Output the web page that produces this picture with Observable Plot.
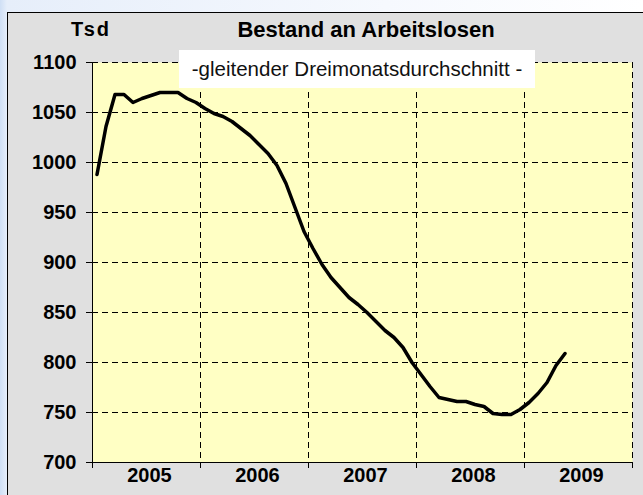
<!DOCTYPE html>
<html><head><meta charset="utf-8">
<script src="https://cdn.jsdelivr.net/npm/d3@7"></script>
<script src="https://cdn.jsdelivr.net/npm/@observablehq/plot@0.6"></script>
<style>
html,body{margin:0;padding:0;width:643px;height:495px;overflow:hidden;font-family:Arial,"Liberation Sans",sans-serif;}
body{background:linear-gradient(to right,#cfdff5 0px,#e6eefa 7px,#f6f9fe 60%,#ffffff 100%);position:relative;}
#frame{position:absolute;left:7px;top:12px;width:640px;height:495px;background:#e0e0e0;border:1px solid #000;box-sizing:border-box;}
#chart{position:absolute;left:0;top:0;}
.lbl{position:absolute;transform:translate(-50%,-50%);white-space:nowrap;color:#000;}
#tsd{left:91px;top:29px;font-weight:bold;font-size:20px;letter-spacing:2px;}
#title{left:366px;top:30px;font-weight:bold;font-size:22px;}
#subbox{position:absolute;left:179px;top:50px;width:356px;height:38px;background:#fff;display:flex;align-items:center;justify-content:center;font-size:20.5px;color:#111;white-space:nowrap;}
svg [aria-label="y-axis tick label"], svg [aria-label="text"]{font-weight:bold;}
</style>
</head><body>
<div id="frame"></div>
<div id="chart"></div>
<div class="lbl" id="tsd">Tsd</div>
<div class="lbl" id="title">Bestand an Arbeitslosen</div>
<div id="subbox">-gleitender Dreimonatsdurchschnitt -</div>
<script>
const years = ["2005","2006","2007","2008","2009"];
const yearStarts = [2005,2006,2007,2008,2009,2010];
const yTicks = [700,750,800,850,900,950,1000,1050,1100];
const values = [
  988,1036,1068,1068,1060,1064,1067,1070,1070,1070,1064,1060,
  1054,1049,1046,1041,1034,1027,1018,1009,997,979,955,931,
  914,898,885,875,865,858,850,841,832,825,815,800,
  788,776,765,763,761,761,758,756,749,748,748,753,
  760,769,780,797,809
];
const firstYear = 2005;
const data = values.map((v,i)=>({t:firstYear+(i+0.5)/12, v}));

const chart = Plot.plot({
  width:643, height:495,
  marginLeft:92, marginRight:11, marginTop:62, marginBottom:33,
  x:{domain:[2005,2010]},
  y:{domain:[700,1100]},
  style:{background:"transparent", fontFamily:"Arial, 'Liberation Sans', sans-serif", color:"#000", overflow:"visible"},
  marks:[
    Plot.frame({fill:"#ffffc4", stroke:null}),
    Plot.ruleY(yTicks.filter(d=>d>700), {stroke:"#000", strokeDasharray:"6,4", strokeWidth:1}),
    Plot.ruleX(yearStarts.slice(1), {stroke:"#000", strokeDasharray:"6,4", strokeWidth:1}),
    Plot.ruleX([2005], {stroke:"#000", strokeWidth:1}),
    Plot.ruleY([700], {stroke:"#000", strokeWidth:1}),
    Plot.axisY({ticks:yTicks, tickSize:6, tickPadding:10, tickFormat:d=>String(d), fontSize:20, fontWeight:"bold", label:null, stroke:"#000"}),
    Plot.axisX({ticks:yearStarts, tickSize:6, tickFormat:()=>"", label:null, stroke:"#000"}),
    Plot.text(years, {x:d=>+d+0.5, frameAnchor:"bottom", dy:19, dx:3, fontSize:20, fontWeight:"bold", fill:"#000"}),
    Plot.line(data, {x:"t", y:"v", stroke:"#000", strokeWidth:3.5, strokeLinejoin:"round", strokeLinecap:"round"})
  ]
});
document.getElementById("chart").append(chart);
</script>
</body></html>
